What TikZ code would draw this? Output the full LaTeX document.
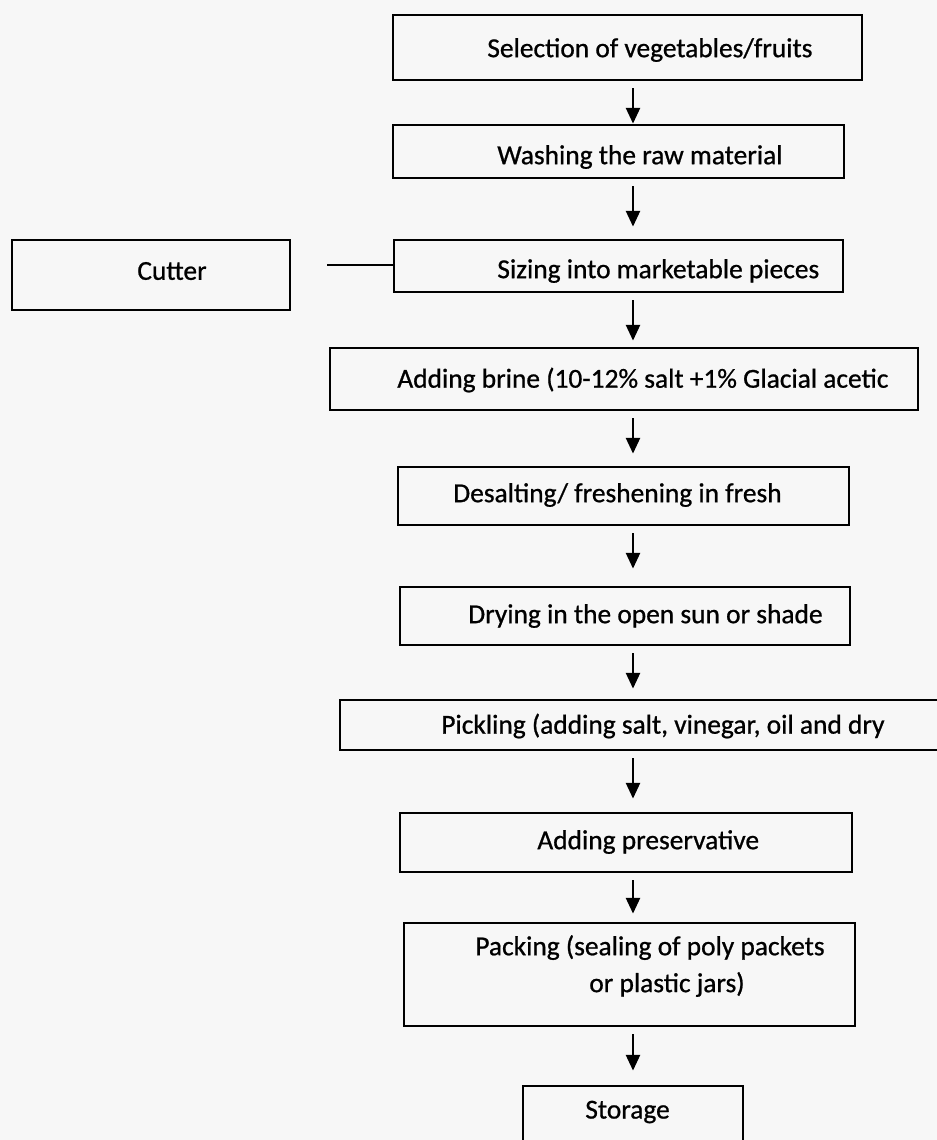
\documentclass[tikz,border=0pt]{standalone}
\usepackage{fontspec}
\setmainfont{Carlito}[UprightFeatures={FakeBold=0.8}]
\usetikzlibrary{arrows.meta, positioning}

\begin{document}
\begin{tikzpicture}[x=0.02cm, y=-0.02cm,
  box/.style={rectangle, draw, line width=1.6pt, inner sep=0pt},
  txt/.style={anchor=west, inner sep=0pt, font=\fontsize{15.6}{19}\selectfont},
  arr/.style={-{Triangle[length=9pt, width=8pt]}, line width=1.4pt, shorten <=0.14cm}]
\useasboundingbox[fill=black!3] (0,0) rectangle (937,1140);
% boxes
\node[box, minimum width=5.56cm, minimum height=1.4cm] (cut) at (151, 275) {};
\node[box, minimum width=9.38cm, minimum height=1.3cm] (sel) at (627.5, 47.5) {};
\node[box, minimum width=9.02cm, minimum height=1.06cm] (wash) at (618.5, 151.5) {};
\node[box, minimum width=8.98cm, minimum height=1.04cm] (size) at (618.5, 266) {};
\node[box, minimum width=11.76cm, minimum height=1.24cm] (brine) at (624, 379) {};
\node[box, minimum width=9.02cm, minimum height=1.16cm] (desalt) at (623.5, 496) {};
\node[box, minimum width=9.0cm, minimum height=1.16cm] (dry) at (625, 616) {};
\node[box, minimum width=12.1cm, minimum height=1.0cm] (pick) at (642.5, 725) {};
\node[box, minimum width=9.04cm, minimum height=1.18cm] (pres) at (626, 842.5) {};
\node[box, minimum width=9.02cm, minimum height=2.06cm] (pack) at (629.5, 974.5) {};
\node[box, minimum width=4.4cm, minimum height=1.48cm] (stor) at (633, 1123) {};
% texts
\node[txt] (cutt) at (137, 271) {Cutter};
\node[txt] (selt) at (487, 50) {Selection of vegetables/fruits};
\node[txt] (washt) at (497, 157) {Washing the raw material};
\node[txt] (sizet) at (497, 271) {Sizing into marketable pieces};
\node[txt] (brinet) at (397, 380) {Adding brine (10-12\% salt +1\% Glacial acetic};
\node[txt] (desaltt) at (453, 495) {Desalting/ freshening in fresh};
\node[txt] (dryt) at (468, 616) {Drying in the open sun or shade};
\node[txt] (pickt) at (441, 726) {Pickling (adding salt, vinegar, oil and dry};
\node[txt] (prest) at (537, 842) {Adding preservative};
\node[txt, align=left] (packt) at (475, 966) {Packing (sealing of poly packets\\[2pt]\hspace*{2.28cm}or plastic jars)};
\node[txt] (stort) at (585, 1112) {Storage};
% cutter link
\coordinate (cutgap) at (327, 265);
\draw[line width=1.4pt] (cutgap) -- (size.west |- cutgap);
% flow
\draw[arr, shorten >=0pt] (sel.south -| stor) -- (wash.north -| stor);
\draw[arr, shorten >=0.24cm] (wash.south -| stor) -- (size.north -| stor);
\draw[arr, shorten >=0.12cm] (size.south -| stor) -- (brine.north -| stor);
\draw[arr, shorten >=0.24cm] (brine.south -| stor) -- (desalt.north -| stor);
\draw[arr, shorten >=0.34cm] (desalt.south -| stor) -- (dry.north -| stor);
\draw[arr, shorten >=0.2cm] (dry.south -| stor) -- (pick.north -| stor);
\draw[arr, shorten >=0.26cm] (pick.south -| stor) -- (pres.north -| stor);
\draw[arr, shorten >=0.16cm] (pres.south -| stor) -- (pack.north -| stor);
\draw[arr, shorten >=0.28cm] (pack.south -| stor) -- (stor.north);
\end{tikzpicture}
\end{document}
